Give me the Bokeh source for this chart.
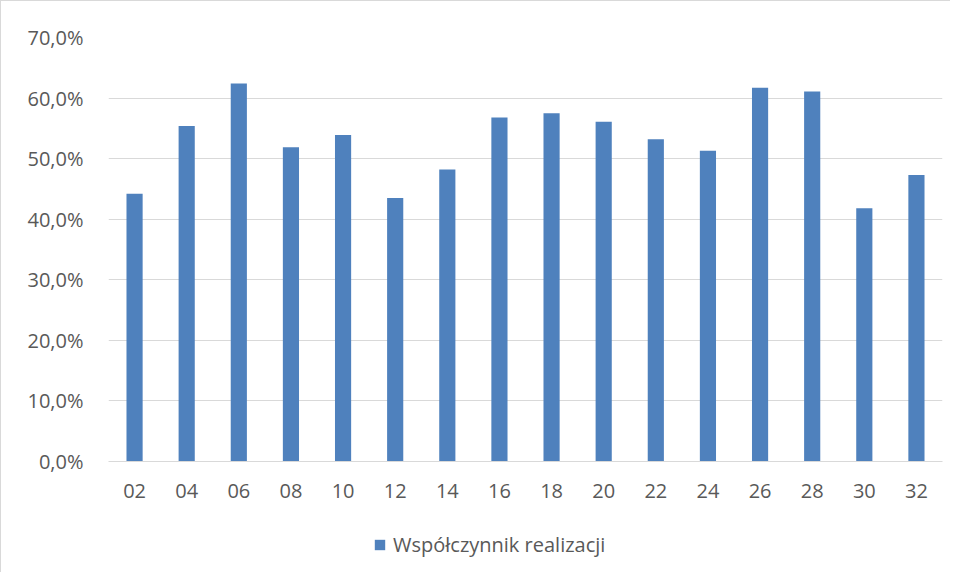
from bokeh.plotting import figure
from bokeh.layouts import column
from bokeh.models import (ColumnDataSource, FactorRange, Legend, LegendItem,
                          CustomJSTickFormatter, FixedTicker, Range1d)
from bokeh.embed import file_html
from bokeh.resources import INLINE

categories = ["02", "04", "06", "08", "10", "12", "14", "16",
              "18", "20", "22", "24", "26", "28", "30", "32"]
values = [44.2, 55.4, 62.4, 51.9, 53.9, 43.5, 48.2, 56.8,
          57.5, 56.1, 53.2, 51.3, 61.7, 61.1, 41.8, 47.3]
series_name = "Współczynnik realizacji"
y_ticks = [0, 10, 20, 30, 40, 50, 60, 70]

FONT = "Open Sans"
TXT = "#595959"
BAR = "#4F81BD"
GRID = "#D9D9D9"

src = ColumnDataSource(dict(cat=categories, val=values))

p = figure(frame_width=833, frame_height=423, output_backend="svg",
           toolbar_location=None,
           x_range=FactorRange(*categories, range_padding=0),
           y_range=Range1d(0, 70),
           min_border_left=107, min_border_right=9,
           min_border_top=36, min_border_bottom=60)
p.styles = {"border-left": "1px solid #D9D9D9", "border-top": "1px solid #D9D9D9"}
p.outline_line_color = None
p.x_range.factor_padding = 0

r = p.vbar(x="cat", top="val", width=0.31, source=src, fill_color=BAR,
           line_color=None)

p.yaxis.ticker = FixedTicker(ticks=y_ticks)
p.yaxis.formatter = CustomJSTickFormatter(
    code="return tick.toFixed(1).replace('.', ',') + '%';")
p.yaxis.axis_line_color = None
p.yaxis.major_tick_line_color = None
p.yaxis.minor_tick_line_color = None
p.yaxis.major_label_standoff = 19
p.yaxis.major_label_text_font = FONT
p.yaxis.major_label_text_font_size = "20px"
p.yaxis.major_label_text_color = TXT

p.xaxis.axis_line_color = GRID
p.xaxis.major_tick_line_color = None
p.xaxis.minor_tick_line_color = None
p.xaxis.major_label_standoff = 16
p.xaxis.major_label_text_font = FONT
p.xaxis.major_label_text_font_size = "20px"
p.xaxis.major_label_text_color = TXT

p.xgrid.grid_line_color = None
p.ygrid.grid_line_color = GRID
p.ygrid.grid_line_width = 1

# legend strip below the chart (proxy glyph of zero height)
lf = figure(width=949, height=52, output_backend="svg", toolbar_location=None,
            x_range=Range1d(0, 1), y_range=Range1d(0, 1),
            x_axis_type=None, y_axis_type=None,
            min_border_left=0, min_border_right=0,
            min_border_top=0, min_border_bottom=0)
lf.styles = {"border-left": "1px solid #D9D9D9"}
lf.outline_line_color = None
lf.xgrid.visible = False
lf.ygrid.visible = False
lr = lf.vbar(x=[0.5], top=[0], bottom=[0], width=0.0, fill_color=BAR,
             line_color=None)

legend = Legend(items=[LegendItem(label=series_name, renderers=[lr])],
                location=(265, 14), orientation="horizontal",
                glyph_width=13, glyph_height=13, label_standoff=7,
                padding=0, margin=0, border_line_color=None,
                background_fill_alpha=0,
                label_text_font=FONT, label_text_font_size="20px",
                label_text_color=TXT)
lf.add_layout(legend, "center")

layout = column(p, lf, spacing=0)

open("out.html", "w").write(file_html(layout, INLINE))
